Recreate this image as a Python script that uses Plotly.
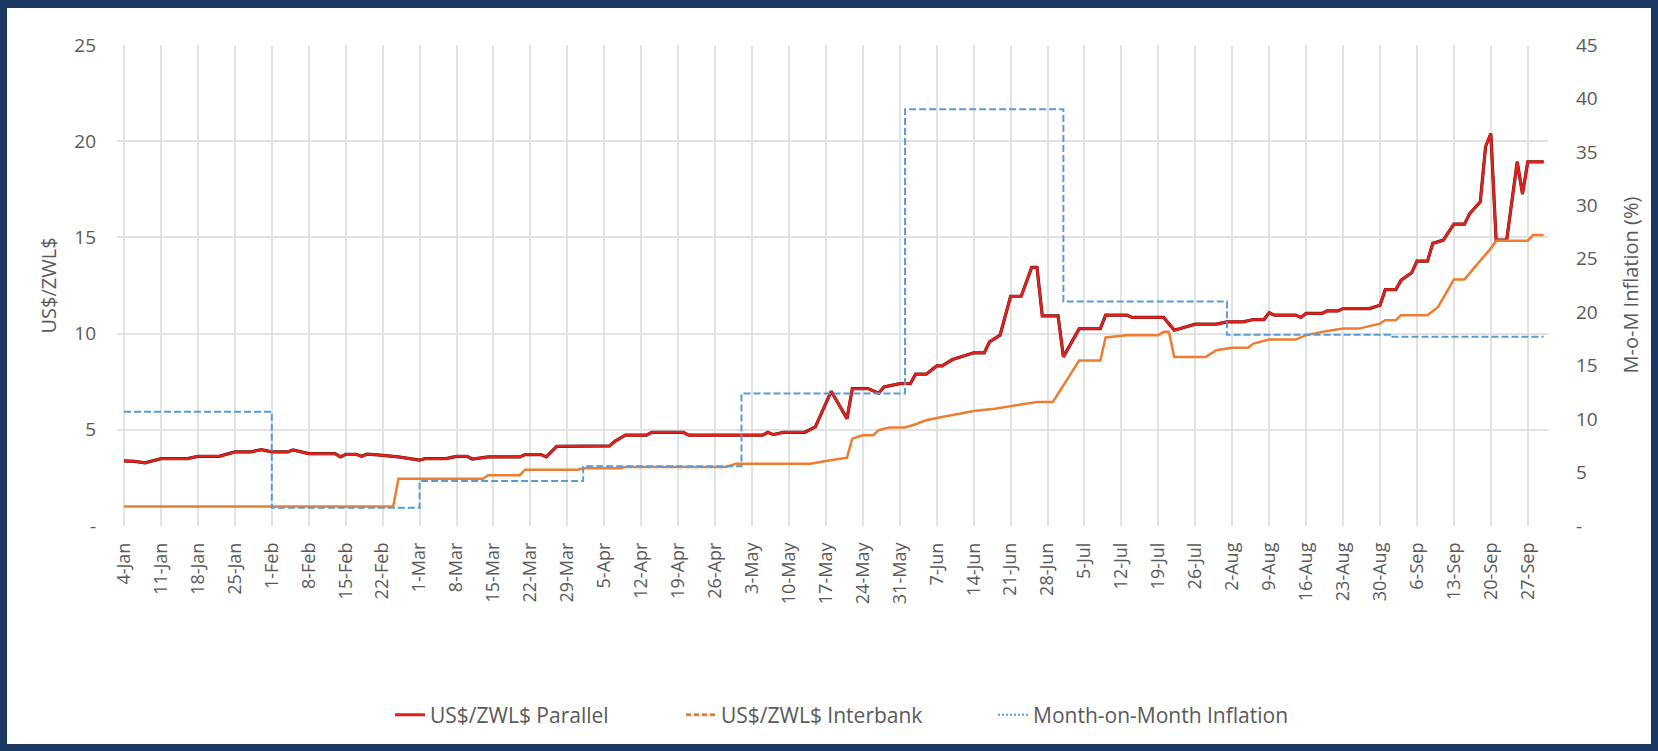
import plotly.graph_objects as go

# ---------------- data ----------------
parallel_dates = [
    "2021-01-04", "2021-01-06", "2021-01-08", "2021-01-11", "2021-01-16", "2021-01-18",
    "2021-01-22", "2021-01-24", "2021-01-25", "2021-01-28", "2021-01-30", "2021-02-01",
    "2021-02-04", "2021-02-05", "2021-02-08", "2021-02-13", "2021-02-14", "2021-02-15",
    "2021-02-17", "2021-02-18", "2021-02-19", "2021-02-21", "2021-02-25", "2021-03-01",
    "2021-03-02", "2021-03-06", "2021-03-08", "2021-03-10", "2021-03-11", "2021-03-14",
    "2021-03-20", "2021-03-21", "2021-03-24", "2021-03-25", "2021-03-27", "2021-04-06",
    "2021-04-07", "2021-04-09", "2021-04-13", "2021-04-14", "2021-04-20", "2021-04-21",
    "2021-05-05", "2021-05-06", "2021-05-07", "2021-05-09", "2021-05-13", "2021-05-15",
    "2021-05-18", "2021-05-21", "2021-05-22", "2021-05-25", "2021-05-27", "2021-05-28",
    "2021-05-31", "2021-06-02", "2021-06-03", "2021-06-05", "2021-06-07", "2021-06-08",
    "2021-06-10", "2021-06-14", "2021-06-16", "2021-06-17", "2021-06-19", "2021-06-21",
    "2021-06-23", "2021-06-25", "2021-06-26", "2021-06-27", "2021-06-30", "2021-07-01",
    "2021-07-04", "2021-07-08", "2021-07-09", "2021-07-13", "2021-07-14", "2021-07-20",
    "2021-07-22", "2021-07-23", "2021-07-26", "2021-07-30", "2021-08-01", "2021-08-04",
    "2021-08-06", "2021-08-08", "2021-08-09", "2021-08-10", "2021-08-14", "2021-08-15",
    "2021-08-16", "2021-08-19", "2021-08-20", "2021-08-22", "2021-08-23", "2021-08-28",
    "2021-08-30", "2021-08-31", "2021-09-02", "2021-09-03", "2021-09-05", "2021-09-06",
    "2021-09-08", "2021-09-09", "2021-09-11", "2021-09-13", "2021-09-15", "2021-09-16",
    "2021-09-18", "2021-09-19", "2021-09-20", "2021-09-21", "2021-09-23", "2021-09-25",
    "2021-09-26", "2021-09-27", "2021-09-30",
]
parallel_rate = [
    3.38, 3.36, 3.28, 3.50, 3.50, 3.62,
    3.62, 3.76, 3.85, 3.85, 3.97, 3.85,
    3.85, 3.95, 3.76, 3.76, 3.59, 3.73,
    3.73, 3.62, 3.73, 3.70, 3.59, 3.42,
    3.50, 3.50, 3.62, 3.62, 3.48, 3.59,
    3.59, 3.71, 3.71, 3.59, 4.14, 4.16,
    4.40, 4.72, 4.72, 4.87, 4.87, 4.72,
    4.72, 4.87, 4.75, 4.87, 4.87, 5.15,
    7.00, 5.58, 7.14, 7.14, 6.90, 7.23,
    7.40, 7.40, 7.89, 7.89, 8.32, 8.32,
    8.65, 9.00, 9.00, 9.57, 9.92, 11.94,
    11.94, 13.44, 13.44, 10.92, 10.92, 8.79,
    10.26, 10.26, 10.96, 10.96, 10.84, 10.84,
    10.18, 10.25, 10.49, 10.49, 10.61, 10.61,
    10.73, 10.73, 11.08, 10.96, 10.96, 10.84,
    11.05, 11.05, 11.18, 11.18, 11.30, 11.30,
    11.47, 12.29, 12.29, 12.78, 13.16, 13.77,
    13.77, 14.69, 14.86, 15.69, 15.69, 16.24,
    16.85, 19.71, 20.40, 14.86, 14.86, 18.93,
    17.25, 18.93, 18.93,
]

interbank_dates = [
    "2021-01-04", "2021-02-24", "2021-02-25", "2021-03-13", "2021-03-14", "2021-03-20",
    "2021-03-21", "2021-03-31", "2021-04-01", "2021-04-08", "2021-04-09", "2021-04-28",
    "2021-04-30", "2021-05-14", "2021-05-17", "2021-05-21", "2021-05-22", "2021-05-24",
    "2021-05-26", "2021-05-27", "2021-05-29", "2021-06-01", "2021-06-03", "2021-06-05",
    "2021-06-08", "2021-06-11", "2021-06-14", "2021-06-18", "2021-06-22", "2021-06-26",
    "2021-06-29", "2021-07-04", "2021-07-08", "2021-07-09", "2021-07-13", "2021-07-19",
    "2021-07-20", "2021-07-21", "2021-07-22", "2021-07-28", "2021-07-30", "2021-08-02",
    "2021-08-05", "2021-08-06", "2021-08-09", "2021-08-14", "2021-08-16", "2021-08-19",
    "2021-08-23", "2021-08-26", "2021-08-30", "2021-08-31", "2021-09-02", "2021-09-03",
    "2021-09-08", "2021-09-10", "2021-09-13", "2021-09-15", "2021-09-17", "2021-09-20",
    "2021-09-21", "2021-09-27", "2021-09-28", "2021-09-30",
]
interbank_rate = [
    1.02, 1.02, 2.46, 2.46, 2.64, 2.64,
    2.93, 2.93, 3.00, 3.00, 3.07, 3.07,
    3.24, 3.24, 3.38, 3.55, 4.54, 4.72,
    4.72, 4.98, 5.12, 5.12, 5.29, 5.50,
    5.67, 5.84, 5.98, 6.10, 6.28, 6.45,
    6.45, 8.60, 8.60, 9.80, 9.92, 9.92,
    10.09, 10.09, 8.79, 8.79, 9.14, 9.27,
    9.27, 9.48, 9.69, 9.69, 9.92, 10.09,
    10.26, 10.26, 10.52, 10.70, 10.70, 10.96,
    10.96, 11.39, 12.81, 12.81, 13.47, 14.43,
    14.83, 14.83, 15.12, 15.12,
]

inflation_months = [
    "2021-01-04", "2021-02-01", "2021-03-01", "2021-04-01", "2021-05-01",
    "2021-06-01", "2021-07-01", "2021-08-01", "2021-09-01",
]
inflation_mom = [10.7, 1.7, 4.2, 5.6, 12.4, 39.0, 21.0, 17.9, 17.7]
series_end = "2021-09-30"

left_ticks = [0, 5, 10, 15, 20, 25]
left_ticktext = ["-", "5", "10", "15", "20", "25"]
right_ticks = [0, 5, 10, 15, 20, 25, 30, 35, 40, 45]
right_ticktext = ["-", "5", "10", "15", "20", "25", "30", "35", "40", "45"]

# ---------------- styling ----------------
W, H = 1658, 751
ML, MR, MT, MB = 117, 110, 45, 225
PW, PH = W - ML - MR, H - MT - MB
NAVY = "#1b3763"
RED = "#e3201b"
ORANGE = "#ed7d31"
BLUE = "#5b9bd5"
TXT = "#595959"
GRID = "#e2e2e2"
FONT = "Open Sans"


def px_x(p):
    return (p - ML) / PW


def px_y(p):
    return (H - MB - p) / PH


fig = go.Figure()

# Parallel (thin dark underlay gives the slight shadow seen in the reference)
fig.add_trace(go.Scatter(x=parallel_dates, y=parallel_rate, mode="lines",
                         line=dict(color="#4a1210", width=3.2),
                         showlegend=False, hoverinfo="skip"))
fig.add_trace(go.Scatter(x=parallel_dates, y=parallel_rate, mode="lines",
                         line=dict(color=RED, width=2.5),
                         name="US$/ZWL$ Parallel", showlegend=False))
# Interbank
fig.add_trace(go.Scatter(x=interbank_dates, y=interbank_rate, mode="lines",
                         line=dict(color=ORANGE, width=2.5),
                         name="US$/ZWL$ Interbank", showlegend=False))
# Month-on-month inflation on secondary axis
fig.add_trace(go.Scatter(x=inflation_months + [series_end],
                         y=inflation_mom + [inflation_mom[-1]],
                         mode="lines", line_shape="hv",
                         line=dict(color=BLUE, width=2, dash="7px,3px"),
                         name="Month-on-Month Inflation", showlegend=False,
                         yaxis="y2"))

# legend entries
fig.add_trace(go.Scatter(x=[None], y=[None], mode="lines", name="US$/ZWL$ Parallel",
                         line=dict(color=RED, width=3), legendwidth=246))
fig.add_trace(go.Scatter(x=[None], y=[None], mode="lines", name="US$/ZWL$ Interbank",
                         line=dict(color=ORANGE, width=3, dash="5px,3px"), legendwidth=267))
fig.add_trace(go.Scatter(x=[None], y=[None], mode="lines", name="Month-on-Month Inflation",
                         line=dict(color=BLUE, width=2, dash="2px,2px")))

fig.update_layout(
    width=W, height=H,
    margin=dict(l=ML, r=MR, t=MT, b=MB, autoexpand=False),
    paper_bgcolor=NAVY,
    plot_bgcolor="white",
    font=dict(family=FONT, color=TXT, size=18),
    shapes=[dict(type="rect", xref="paper", yref="paper", layer="below",
                 x0=px_x(7), x1=px_x(W - 7), y0=px_y(H - 7), y1=px_y(8),
                 fillcolor="white", line=dict(width=0))],
    xaxis=dict(
        type="date",
        range=["2021-01-02 16:00", "2021-09-30 20:00"],
        tick0="2021-01-04", dtick=7 * 86400000, tickformat="%-d-%b",
        tickangle=-90, showgrid=True, gridcolor=GRID, gridwidth=1.5,
        zeroline=False, showline=False, ticks="",
        tickfont=dict(size=18, color=TXT, family=FONT),
        ticklabelstandoff=12,
    ),
    yaxis=dict(
        range=[0, 25], tickvals=left_ticks, ticktext=left_ticktext,
        showgrid=True, gridcolor=GRID, gridwidth=1.5, zeroline=False,
        showline=False, ticks="", tickfont=dict(size=19, color=TXT, family=FONT),
        ticklabelstandoff=20,
    ),
    yaxis2=dict(
        range=[0, 45], tickvals=right_ticks, ticktext=right_ticktext,
        overlaying="y", side="right", showgrid=False, zeroline=False,
        showline=False, ticks="", tickfont=dict(size=19, color=TXT, family=FONT),
        ticklabelstandoff=27,
    ),
    legend=dict(orientation="h", x=px_x(390), xanchor="left", y=px_y(715),
                yanchor="middle", font=dict(size=21, color=TXT, family=FONT),
                bgcolor="rgba(0,0,0,0)", entrywidthmode="pixels"),
    annotations=[
        dict(text="US$/ZWL$", xref="paper", yref="paper", x=px_x(48), y=0.5,
             textangle=-90, showarrow=False, xanchor="center", yanchor="middle",
             font=dict(size=20, color=TXT, family=FONT)),
        dict(text="M-o-M Inflation (%)", xref="paper", yref="paper", x=px_x(1630), y=0.5,
             textangle=-90, showarrow=False, xanchor="center", yanchor="middle",
             font=dict(size=20, color=TXT, family=FONT)),
    ],
)

fig.write_html(
    "out.html",
    config={"displayModeBar": False},
    post_script="document.body.style.margin='0px';document.body.style.overflow='hidden';",
)
